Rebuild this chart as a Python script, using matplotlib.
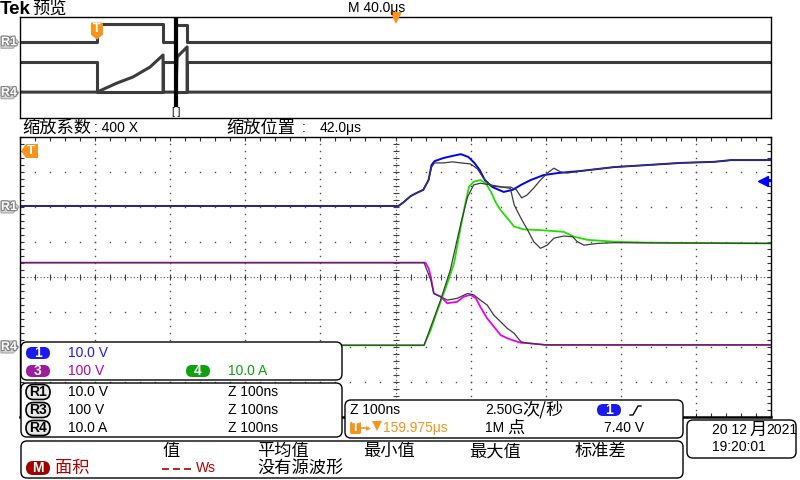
import numpy as np
import matplotlib.pyplot as plt
from matplotlib.patches import FancyBboxPatch, Polygon
from matplotlib.ticker import MultipleLocator
import matplotlib.patheffects as pe

plt.rcParams['font.family'] = ['Liberation Sans', 'Noto Sans CJK SC', 'DejaVu Sans']
CJK = ['Noto Sans CJK SC', 'DejaVu Sans']

# channel settings: volts (amps) per division and ground marker position in divisions
scale = {'1': 10.0, '3': 100.0, '4': 10.0}
offset = {'1': 2.0, '3': -2.0, '4': -2.0}
trig_level = 7.40      # V on channel 1
zoom_pos = 42.0        # us, centre of the zoomed window
ov_left, ov_span = -41.0, 400.0   # overview time axis in us (40 us/div)

# ---- zoomed window, time in ns (100 ns/div) ----
t_ch1 = [-500, 4, 11, 20, 28, 37, 44, 48, 52, 64, 76, 87, 97, 105, 112, 119, 129, 144,
         156, 167, 180, 197, 216, 247, 291, 336, 380, 424, 447, 500]
v_ch1 = [0.3, 0.3, 1.4, 3.1, 4.0, 4.9, 7.7, 12.0, 13.1, 14.0, 14.6, 15.1, 14.3, 12.6, 10.6,
         7.7, 5.7, 4.3, 4.9, 6.3, 7.7, 9.1, 9.7, 10.3, 11.4, 12.0, 12.6, 12.9, 13.4, 13.4]

t_r1 = [-500, 4, 11, 20, 28, 37, 44, 48, 52, 64, 76, 87, 100, 109, 117, 127, 140, 153, 161,
        168, 175, 184, 193, 204, 211, 220, 229, 247, 291, 336, 380, 424, 447, 500]
v_r1 = [0.3, 0.3, 1.4, 3.1, 4.0, 4.9, 7.7, 11.4, 12.6, 12.6, 12.9, 12.6, 12.3, 10.9, 8.3,
        6.0, 5.7, 5.7, 4.9, 2.6, 3.4, 5.4, 7.7, 10.0, 11.1, 10.0, 9.7, 10.3, 11.4, 12.0,
        12.6, 12.9, 13.4, 13.4]

t_ch3 = [-500, 40, 44, 47, 51, 60, 69, 82, 91, 100, 107, 113, 122, 131, 140, 149, 158,
         167, 176, 200, 500]
v_ch3 = [241, 241, 225, 201, 153, 144, 125, 129, 144, 149, 139, 115, 82, 58, 34, 25, 18,
         12, 11, 6, 6]

t_r3 = [-500, 38, 47, 51, 60, 69, 82, 96, 104, 113, 122, 131, 140, 149, 158, 167, 176,
        200, 500]
v_r3 = [241, 241, 191, 153, 144, 134, 139, 153, 149, 134, 120, 91, 72, 53, 39, 15, 11, 6, 6]

t_ch4 = [-500, 38, 47, 53, 60, 69, 78, 87, 93, 98, 104, 113, 120, 127, 133, 140, 149, 158,
         171, 193, 224, 238, 256, 291, 336, 500]
i_ch4 = [0.5, 0.5, 4.9, 8.7, 12.9, 18.2, 23.9, 34.4, 41.1, 45.8, 47.2, 47.7, 46.8, 44.4,
         41.5, 39.1, 36.8, 34.4, 33.6, 33.4, 32.9, 31.5, 30.6, 30.1, 29.8, 29.6]

t_r4 = [-500, 38, 47, 60, 73, 87, 96, 104, 113, 127, 140, 153, 158, 167, 176, 184, 193,
        202, 211, 224, 236, 242, 251, 269, 291, 500]
i_r4 = [0.5, 0.5, 5.8, 13.4, 22.0, 35.3, 42.9, 46.3, 46.8, 46.3, 45.8, 45.3, 40.6, 36.8,
        33.4, 30.1, 28.2, 29.1, 31.1, 31.7, 31.5, 30.1, 29.1, 29.6, 29.8, 29.6]

# ---- overview record, time in us ----
ov_t_sw = [-41, 0, 0, 35.2, 35.2, 42, 42, 48, 48, 359]
ov_gate = [0.3, 0.3, 14.5, 14.5, 0.3, 0.3, 13.4, 13.4, 0.3, 0.3]
ov_vds = [240, 240, 6, 6, 240, 240, 6, 6, 240, 240]
ov_t_id = [-41, 0, 10.7, 19.2, 28.3, 35.2, 35.2, 42, 42.7, 48, 48, 359]
ov_id = [0.5, 0.5, 7.7, 12.5, 20.4, 29.9, 0.5, 0.5, 28.3, 36.3, 0.5, 0.5]


def div(vals, ch):
    return np.array(vals) / scale[ch] + offset[ch]


BLUE, MAG, GRN, GRAY = '#0000ff', '#ee00ee', '#22dd00', '#3c3c3c'
ORANGE = '#f7941d'
W, H = 800, 480

fig = plt.figure(figsize=(8, 4.8), dpi=100)
fig.patch.set_facecolor('white')

# overview panel
ax_ov = fig.add_axes([20 / W, 1 - 118 / H, 751 / W, 101 / H])
ax_ov.set_xlim(ov_left, ov_left + ov_span)
ax_ov.set_ylim(-4, 4)
ax_ov.set_xticks([])
ax_ov.set_yticks([])
for s in ax_ov.spines.values():
    s.set_linewidth(1.0)
ax_ov.plot(ov_t_sw, div(ov_gate, '1'), color=GRAY, lw=2.2)
ax_ov.plot(ov_t_sw, div(ov_vds, '3'), color=GRAY, lw=2.2)
ax_ov.plot(ov_t_id, div(ov_id, '4'), color=GRAY, lw=2.2)
ax_ov.axvline(zoom_pos, ymin=0.13, ymax=0.97, color='black', lw=3)

# zoomed main panel
ax = fig.add_axes([20 / W, 1 - 417 / H, 751 / W, 280 / H])
ax.set_xlim(-500, 500)
ax.set_ylim(-4, 4)
ax.xaxis.set_major_locator(MultipleLocator(20))
ax.yaxis.set_major_locator(MultipleLocator(0.2))
ax.tick_params(which='both', direction='in', length=3, width=0.8, color='#303030',
               top=True, right=True, labelbottom=False, labelleft=False)
for s in ax.spines.values():
    s.set_linewidth(1.0)
ax.spines['bottom'].set_linewidth(1.8)

# graticule dots
gy = np.arange(-4, 4.001, 0.2)
gx = np.arange(-500, 500.1, 20)
for vx in [-400, -300, -200, -100, 100, 200, 300, 400]:
    ax.plot(np.full_like(gy, vx), gy, ls='none', marker='s', ms=1.0, mew=0, color='#505050')
for hy in [-3, -2, -1, 1, 2, 3]:
    ax.plot(gx, np.full_like(gx, hy), ls='none', marker='s', ms=1.0, mew=0, color='#505050')
ax.plot([-500, 500], [0, 0], color='#505050', lw=0.8, ls=(0, (1, 2)))
ax.plot([0, 0], [-4, 4], color='#505050', lw=0.8, ls=(0, (1, 2)))
ax.plot(gx, np.zeros_like(gx), ls='none', marker='|', ms=5, mew=0.8, color='#404040')
ax.plot(np.zeros_like(gy), gy, ls='none', marker='_', ms=5, mew=0.8, color='#404040')

# live channels, then stored references on top
ax.plot(t_ch1, div(v_ch1, '1'), color=BLUE, lw=1.4)
ax.plot(t_ch3, div(v_ch3, '3'), color=MAG, lw=1.3)
ax.plot(t_ch4, div(i_ch4, '4'), color=GRN, lw=1.3)
ax.plot(t_r1, div(v_r1, '1'), color=GRAY, lw=0.9)
ax.plot(t_r3, div(v_r3, '3'), color=GRAY, lw=0.9)
ax.plot(t_r4, div(i_r4, '4'), color=GRAY, lw=0.9)

# trigger level arrow on the right edge
lvl = trig_level / scale['1'] + offset['1']
ax.plot([488, 500], [lvl, lvl], color=BLUE, lw=1.5, clip_on=False)
ax.plot([490], [lvl], marker='<', ms=7, color=BLUE, clip_on=False)

# ---- overlay for labels and readouts, pixel coordinates ----
ui = fig.add_axes([0, 0, 1, 1], zorder=5)
ui.set_xlim(0, W)
ui.set_ylim(H, 0)
ui.axis('off')


def px(a, x, y):
    X, Y = a.transData.transform((x, y))
    return X, H - Y


def txt(x, y, s, color='black', size=10, cjk=False, **kw):
    ui.text(x, y, s, color=color, fontsize=12.4 if cjk else size,
            family=CJK if cjk else None, va='center', ha='left', **kw)


def rbox(x0, y0, x1, y1, r=6):
    ui.add_patch(FancyBboxPatch((x0, y0), x1 - x0, y1 - y0,
                                boxstyle=f'round,pad=0,rounding_size={r}',
                                fc='white', ec='black', lw=1))


def pill(cx, cy, label, fc, w=24, h=12, ec='none', tc='white'):
    ui.add_patch(FancyBboxPatch((cx - w / 2, cy - h / 2), w, h,
                                boxstyle=f'round,pad=0,rounding_size={h / 2}',
                                fc=fc, ec=ec, lw=1.2))
    ui.text(cx, cy, label, color=tc, fontsize=10, fontweight='bold', ha='center', va='center')


def ref_tag(y, label):
    ui.add_patch(Polygon([(1, y - 6), (13, y - 6), (19, y), (13, y + 6), (1, y + 6)],
                         closed=True, fc='#d6d6d6', ec='#a8a8a8', lw=0.8))
    ui.text(9, y, label, color='white', fontsize=9, fontweight='bold', ha='center',
            va='center', path_effects=[pe.withStroke(linewidth=1.6, foreground='#808080')])


# header
ui.text(0, 9, 'Tek', fontsize=13.5, fontweight='bold', va='center', ha='left')
txt(32, 9, '预览', cjk=True)
txt(348, 8, 'M 40.0μs')
ui.plot([396], [18], marker='v', ms=8, color=ORANGE, mew=0)
txt(22, 128, '缩放系数', cjk=True)
txt(94, 128, ': 400 X')
txt(226, 128, '缩放位置', cjk=True)
txt(302, 128, ':')
txt(320, 128, f'{zoom_pos:.1f}μs')

# reference tags on the left
for a, ch, lab in [(ax_ov, '1', 'R1'), (ax_ov, '4', 'R4'), (ax, '1', 'R1'), (ax, '4', 'R4')]:
    ref_tag(px(a, 0, offset[ch])[1], lab)

# trigger markers
tx, ty = px(ax_ov, 0, 3.0)
ui.add_patch(Polygon([(tx - 6, ty - 7), (tx + 6, ty - 7), (tx + 6, ty + 5), (tx, ty + 10),
                      (tx - 6, ty + 5)], closed=True, fc=ORANGE, ec='none'))
ui.text(tx, ty - 1, 'T', color='white', fontsize=9, fontweight='bold', ha='center', va='center')
ui.text(176, 112, '[ ]', fontsize=7, ha='center', va='center')
ui.add_patch(Polygon([(21, 151), (26, 144), (38, 144), (38, 158), (26, 158)],
                     closed=True, fc=ORANGE, ec='none'))
ui.text(31, 151, 'T', color='white', fontsize=9.5, fontweight='bold', ha='center', va='center')

# channel box
rbox(21, 342, 342, 380)
pill(38, 353, '1', '#1a1aee')
txt(68, 353, '10.0 V', color='#1a1aff')
pill(38, 371, '3', '#9c1c9c')
txt(68, 371, '100 V', color='#b000b0')
pill(198, 371, '4', '#10a010')
txt(228, 371, '10.0 A', color='#10a010')

# reference box
rbox(21, 383, 342, 437)
for y, lab, sc in [(392, 'R1', '10.0 V'), (410, 'R3', '100 V'), (428, 'R4', '10.0 A')]:
    pill(38, y, lab, '#e8e8e8', w=24, h=15, ec='black', tc='black')
    txt(68, y, sc)
    txt(228, y, 'Z 100ns')

# timebase box
rbox(345, 400, 683, 438)
txt(350, 410, 'Z 100ns')
txt(485, 410, '2.50G')
txt(522, 410, '次/秒', cjk=True)
pill(609, 410, '1', '#1a1aee')
ui.plot([630, 633, 638, 641], [415, 415, 406, 406], color='black', lw=1)
ui.add_patch(FancyBboxPatch((350, 422), 11, 12, boxstyle='round,pad=0,rounding_size=1.5',
                            fc=ORANGE, ec='none'))
ui.text(355.5, 428, 'T', color='white', fontsize=9, fontweight='bold', ha='center', va='center')
ui.plot([362, 368], [428, 428], color=ORANGE, lw=1.2)
ui.plot([368], [428], marker='>', ms=3.5, color=ORANGE, mew=0)
ui.plot([377], [426], marker='v', ms=7, color=ORANGE, mew=0)
txt(383, 428, '159.975μs', color=ORANGE)
txt(485, 428, '1M')
txt(507, 428, '点', cjk=True)
txt(604, 428, f'{trig_level:.2f} V')

# date box
rbox(687, 420, 796, 458)
txt(712, 430, '20 12')
txt(750, 430, '月', cjk=True)
txt(766, 430, '2021')
txt(712, 447, '19:20:01')

# measurement box
rbox(21, 441, 683, 478)
for x, s in [(162, '值'), (257, '平均值'), (363, '最小值'), (469, '最大值'), (575, '标准差')]:
    txt(x, 451, s, cjk=True)
pill(38, 468, 'M', '#a00000', h=14)
txt(55, 468, '面积', color='#b00000', cjk=True)
ui.plot([162, 193], [469, 469], color='#b00000', lw=1.2, dashes=(4.2, 2.4))
txt(196, 468, 'Ws', color='#b00000')
txt(257, 468, '没有源波形', cjk=True)

fig.savefig('out.png', dpi=100)
